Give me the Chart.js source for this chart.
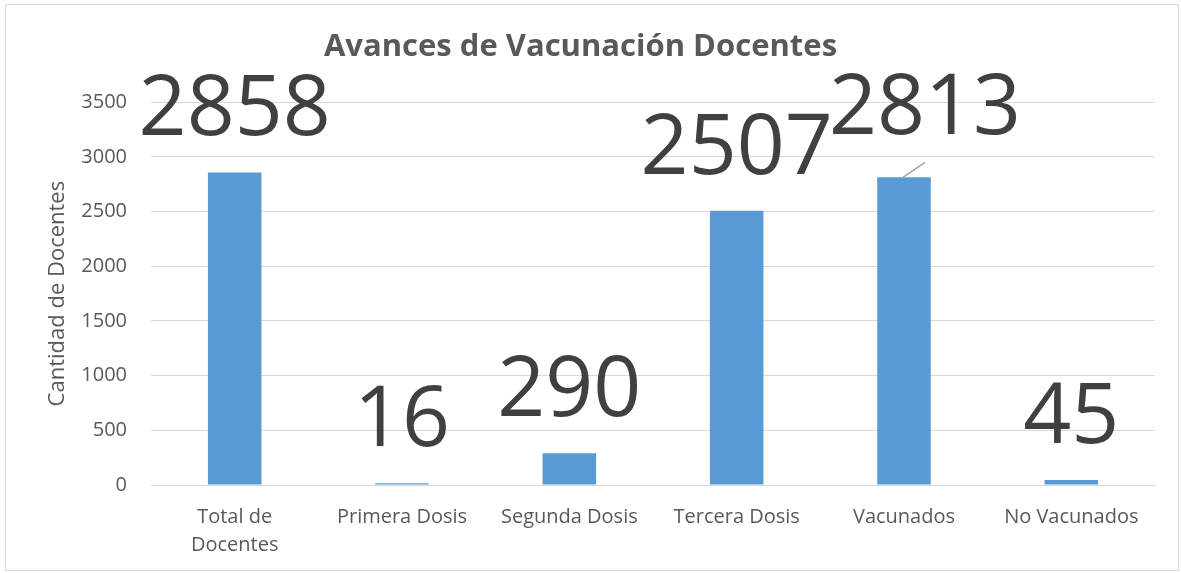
<!DOCTYPE html>
<html>
<head>
<meta charset="utf-8">
<script src="https://cdn.jsdelivr.net/npm/chart.js@4/dist/chart.umd.min.js"></script>
<style>
  body { margin: 0; background: #fff; }
  #box { position: absolute; left: 5px; top: 4px; width: 1172px; height: 565px; border: 1px solid #d9d9d9; }
</style>
</head>
<body>
<div id="box"><canvas id="myChart" width="1172" height="565"></canvas></div>
<script>
const categories = [["Total de", "Docentes"], "Primera Dosis", "Segunda Dosis", "Tercera Dosis", "Vacunados", "No Vacunados"];
const docentes = [2858, 16, 290, 2507, 2813, 45];
const yTicks = [0, 500, 1000, 1500, 2000, 2500, 3000, 3500];

const font = "'Open Sans', sans-serif";
const gray = '#595959';

// etiquetas grandes encima de cada barra
const bigLabels = {
  id: 'bigLabels',
  afterDatasetsDraw(chart, args, opts) {
    const ctx = chart.ctx;
    const meta = chart.getDatasetMeta(0);
    ctx.save();
    ctx.font = opts.size + 'px ' + font;
    ctx.fillStyle = '#404040';
    ctx.textAlign = 'center';
    ctx.textBaseline = 'alphabetic';
    meta.data.forEach((bar, i) => {
      const shift = opts.moved[i] || [0, 0];
      const x = bar.x + shift[0];
      const y = bar.y - opts.gap + shift[1];
      if (opts.moved[i]) {
        ctx.strokeStyle = '#a6a6a6';
        ctx.lineWidth = 1.5;
        ctx.beginPath();
        ctx.moveTo(bar.x - 1, bar.y);
        ctx.lineTo(bar.x + 21, bar.y - 15);
        ctx.stroke();
      }
      ctx.fillText(docentes[i], x, y);
    });
    ctx.restore();
  }
};

new Chart(document.getElementById('myChart'), {
  type: 'bar',
  data: {
    labels: categories,
    datasets: [{
      data: docentes,
      backgroundColor: '#5b9bd5',
      categoryPercentage: 1,
      barPercentage: 0.32
    }]
  },
  options: {
    responsive: false,
    animation: false,
    layout: { padding: { left: 0, right: 23, top: 0, bottom: 0 } },
    plugins: {
      legend: { display: false },
      tooltip: { enabled: false },
      title: {
        display: true,
        text: 'Avances de Vacunación Docentes',
        color: gray,
        font: { family: font, size: 31, weight: 'bold' },
        padding: { top: 24, bottom: 36 }
      },
      bigLabels: { size: 84, gap: 37, moved: { 4: [21, -6] } }
    },
    scales: {
      x: {
        grid: { display: false },
        border: { color: '#d9d9d9' },
        ticks: { color: gray, font: { family: font, size: 20, lineHeight: 1.4 }, maxRotation: 0, padding: 10 },
        afterFit(scale) { scale.height = 85; }
      },
      y: {
        min: 0,
        max: 3500,
        afterBuildTicks(scale) { scale.ticks = yTicks.map(v => ({ value: v })); },
        grid: { color: '#d9d9d9', drawTicks: false },
        border: { display: false },
        ticks: { color: gray, font: { family: font, size: 20 }, padding: 24, callback: v => String(v) },
        title: {
          display: true,
          text: 'Cantidad de Docentes',
          color: gray,
          font: { family: font, size: 22 },
          padding: { top: 39, bottom: 0 }
        },
        afterFit(scale) { scale.width = 145; }
      }
    }
  },
  plugins: [bigLabels]
});
</script>
</body>
</html>
